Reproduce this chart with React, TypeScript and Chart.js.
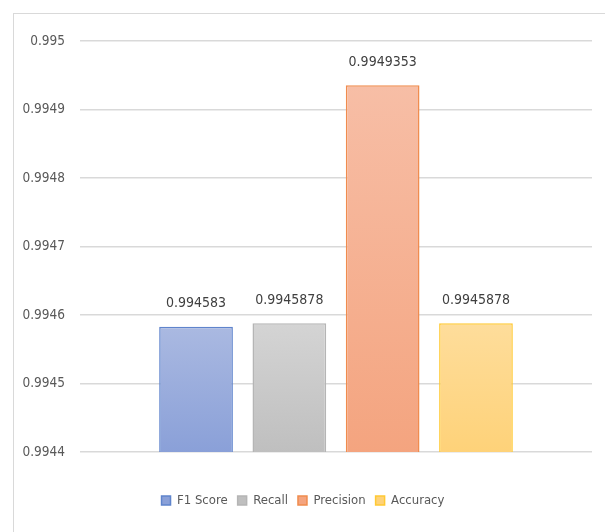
import React, { useEffect, useRef } from "react";
import { Chart, registerables } from "chart.js";

Chart.register(...registerables);

const categories = [""];
const seriesNames = ["F1 Score", "Recall", "Precision", "Accuracy"];
const seriesValues = [0.994583, 0.9945878, 0.9949353, 0.9945878];
const valueLabels = ["0.994583", "0.9945878", "0.9949353", "0.9945878"];
const yMin = 0.9944;
const yMax = 0.995;
const yStep = 0.0001;

const gradTop = ["#aab9e1", "#d4d4d4", "#f7bea6", "#fedd9b"];
const gradBottom = ["#8aa0d8", "#bfbfbf", "#f4a47f", "#fed279"];
const borders = ["#5f84cc", "#b5b5b5", "#f08c4e", "#ffc933"];

const FONT = "'Liberation Sans Narrow', 'DejaVu Sans Condensed', 'Arial Narrow', sans-serif";

export default function App() {
  const ref = useRef<HTMLCanvasElement>(null);
  useEffect(() => {
    if (!ref.current) return;
    const labelPlugin = {
      id: "valueLabels",
      afterDatasetsDraw(chart: any) {
        const ctx = chart.ctx;
        ctx.save();
        ctx.font = `14px ${FONT}`;
        ctx.fillStyle = "#404040";
        ctx.textAlign = "center";
        ctx.textBaseline = "middle";
        chart.data.datasets.forEach((_: any, i: number) => {
          const meta = chart.getDatasetMeta(i);
          meta.data.forEach((bar: any) => {
            ctx.fillText(valueLabels[i], bar.x, bar.y - 23);
          });
        });
        ctx.restore();
      },
    };
    const chart = new Chart(ref.current, {
      type: "bar",
      data: {
        labels: categories,
        datasets: seriesNames.map((name, i) => ({
          label: name,
          data: [seriesValues[i]],
          backgroundColor: (c: any) => {
            const ch = c.chart;
            if (!ch.chartArea || !ch.scales.y) return gradTop[i];
            const top = ch.scales.y.getPixelForValue(seriesValues[i]);
            const bottom = ch.scales.y.getPixelForValue(yMin);
            const g = ch.ctx.createLinearGradient(0, top, 0, bottom);
            g.addColorStop(0, gradTop[i]);
            g.addColorStop(1, gradBottom[i]);
            return g;
          },
          borderColor: borders[i],
          borderWidth: 1.5,
          barPercentage: 0.79,
          categoryPercentage: 0.729,
        })),
      },
      options: {
        animation: false,
        responsive: false,
        maintainAspectRatio: false,
        layout: { padding: { top: 27, right: 19, bottom: 27, left: 0 } },
        plugins: {
          legend: {
            position: "bottom",
            labels: {
              boxWidth: 9,
              boxHeight: 9,
              padding: 10,
              color: "#595959",
              font: { family: FONT, size: 13 },
            },
          },
          tooltip: { enabled: false },
        },
        scales: {
          x: {
            grid: { display: false },
            border: { display: false },
            ticks: { display: false },
            afterFit: (s: any) => {
              s.height = 32;
            },
          },
          y: {
            min: yMin,
            max: yMax,
            border: { display: false },
            grid: { color: "#d9d9d9", lineWidth: 1.5, drawTicks: false },
            ticks: {
              stepSize: yStep,
              padding: 15,
              color: "#595959",
              font: { family: FONT, size: 13.5 },
              callback: (v: any) => String(parseFloat(Number(v).toFixed(4))),
            },
            afterFit: (s: any) => {
              s.width = 66;
            },
          },
        },
      },
      plugins: [labelPlugin],
    });
    return () => chart.destroy();
  }, []);
  return (
    <div
      style={{
        marginLeft: 5,
        marginTop: 5,
        width: 597,
        height: 540,
        border: "1px solid #d9d9d9",
        background: "#fff",
      }}
    >
      <canvas ref={ref} width={597} height={530} style={{ display: "block" }} />
    </div>
  );
}
